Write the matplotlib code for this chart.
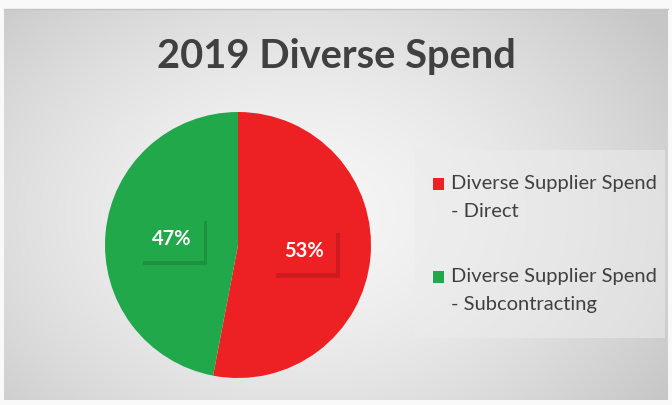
import numpy as np
import matplotlib
matplotlib.use("Agg")
import matplotlib.pyplot as plt
from matplotlib import patheffects as pe

categories = ["Diverse Supplier Spend\n- Direct", "Diverse Supplier Spend\n- Subcontracting"]
values = [53, 47]
colors = ["#ED2024", "#21A84B"]
title = "2019 Diverse Spend"

plt.rcParams['font.family'] = ['Lato', 'DejaVu Sans']

W, H = 672, 405
fig = plt.figure(figsize=(W / 100, H / 100), dpi=100)
fig.patch.set_facecolor("white")

# background panel with radial gradient
bg = fig.add_axes([0, 0, 1, 1])
bg.set_xlim(0, W)
bg.set_ylim(H, 0)
bg.axis("off")
yy, xx = np.mgrid[0:H, 0:W]
cx, cy = 300, 215
d = np.sqrt(((xx - cx) / 420.0) ** 2 + ((yy - cy) / 300.0) ** 2)
g = np.clip(0.965 - 0.17 * d ** 1.6, 0.78, 0.97)
img = np.dstack([g, g, g])
img[:9, :, :] = 0.98
img[:, :4, :] = 0.98
img[:, 668:, :] = 0.98
img[400:, :, :] = 0.98
bg.imshow(img, extent=(0, W, H, 0), aspect="auto", zorder=0)
bg.plot([4, 668], [9, 9], color="#c4c4c4", lw=1, zorder=1)

# legend background box
bg.add_patch(plt.Rectangle((415, 150), 250, 188, facecolor="#ececec", alpha=0.55,
                           edgecolor="none", zorder=1))

fig.text(0.5, 1 - 68 / H, title, ha="center", va="baseline", fontsize=28.7,
         fontweight="bold", color="#404040")

# pie
ax = fig.add_axes([105 / W, 1 - 378 / H, 266 / W, 266 / H])
ax.set_facecolor("none")
wedges, texts, autotexts = ax.pie(
    values, colors=colors, startangle=90, counterclock=False,
    autopct=lambda p: f"{p:.0f}%", pctdistance=0.5,
    wedgeprops=dict(linewidth=0, edgecolor="none"),
    textprops=dict(color="white", fontsize=14.5, fontweight="bold"))
ax.set_aspect("auto")
ax.set_xlim(-1, 1)
ax.set_ylim(-1, 1)
for t, c in zip(autotexts, colors):
    t.set_bbox(dict(boxstyle="square,pad=0.6", facecolor=c, edgecolor="none"))
    t.get_bbox_patch().set_path_effects([
        pe.SimplePatchShadow(offset=(2.5, -3), shadow_rgbFace="#000000", alpha=0.13),
        pe.Normal()])

leg = fig.legend(wedges, categories, loc="upper left",
                 bbox_to_anchor=(423 / W, 1 - 165 / H), frameon=False, borderpad=0,
                 fontsize=14.5, labelcolor="#404040", handlelength=0.55, handleheight=0.55,
                 handletextpad=0.35, labelspacing=2.4)
for t in leg.get_texts():
    t.set_linespacing(1.78)
# align the colour squares with the first text line
for h in leg.legend_handles:
    h.set_y(h.get_y() + 9.6)

fig.savefig("out.png", dpi=100, facecolor=fig.get_facecolor())
